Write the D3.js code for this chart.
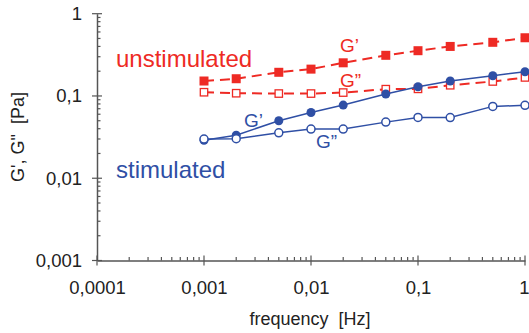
<!DOCTYPE html>
<html><head><meta charset="utf-8">
<script src="https://cdn.jsdelivr.net/npm/d3@7"></script>
<style>body{margin:0;background:#fff;}svg{display:block;font-family:"Liberation Sans",Arial,sans-serif;}text{white-space:pre;}</style>
</head><body><svg id="c" width="529" height="333"></svg>
<script>
const freq = [0.001,0.002,0.005,0.01,0.02,0.05,0.1,0.2,0.5,1];
const unstimG1 = [0.152,0.162,0.194,0.212,0.253,0.312,0.355,0.40,0.449,0.51];
const unstimG2 = [0.111,0.108,0.107,0.107,0.110,0.121,0.122,0.135,0.150,0.168];
const stimG1 = [0.029,0.0334,0.0499,0.063,0.0775,0.1055,0.1294,0.152,0.176,0.197];
const stimG2 = [0.0299,0.0302,0.0357,0.0396,0.0396,0.0481,0.0549,0.0546,0.0747,0.0769];
const xTicks = [0.0001,0.001,0.01,0.1,1];
const xTickLabels = ["0,0001","0,001","0,01","0,1","1"];
const yTicks = [0.001,0.01,0.1,1];
const yTickLabels = ["0,001","0,01","0,1","1"];

const RED="#ee2a24", BLUE="#2f4fa5", AX="#555";
const svg=d3.select("#c");
const x=d3.scaleLog().domain([0.0001,1]).range([97,525]);
const y=d3.scaleLog().domain([0.001,1]).range([260.5,13.7]);

const minors=[];
for(let e=-4;e<0;e++) for(let m=2;m<10;m++) minors.push(m*Math.pow(10,e));
const yMinors=[];
for(let e=-3;e<0;e++) for(let m=2;m<10;m++) yMinors.push(m*Math.pow(10,e));

const gx=svg.append("g").attr("transform",`translate(0,${y(0.001)})`);
gx.call(d3.axisBottom(x).tickValues(xTicks).tickFormat((d,i)=>xTickLabels[i]).tickSize(0).tickPadding(20));
gx.select(".domain").attr("stroke",AX).attr("stroke-width",1.5);
gx.selectAll("text").attr("font-size",18.5).attr("fill","#222").attr("font-family","Liberation Sans, Arial, sans-serif");
gx.selectAll(".tick").filter(d=>d===1).select("text").attr("text-anchor","end").attr("x",4);
gx.selectAll(".tk").data(xTicks).enter().append("line")
  .attr("x1",d=>x(d)).attr("x2",d=>x(d)).attr("y1",-5).attr("y2",5).attr("stroke",AX).attr("stroke-width",1.2);
gx.selectAll(".mn").data(minors).enter().append("line")
  .attr("x1",d=>x(d)).attr("x2",d=>x(d)).attr("y1",-3.5).attr("y2",0).attr("stroke",AX).attr("stroke-width",1.2);

const gy=svg.append("g").attr("transform",`translate(${x(0.0001)},0)`);
gy.call(d3.axisLeft(y).tickValues(yTicks).tickFormat((d,i)=>yTickLabels[i]).tickSize(0).tickPadding(15));
gy.select(".domain").attr("stroke",AX).attr("stroke-width",1.5);
gy.selectAll("text").attr("font-size",18.5).attr("fill","#222").attr("font-family","Liberation Sans, Arial, sans-serif");
gy.selectAll(".tk").data(yTicks).enter().append("line")
  .attr("y1",d=>y(d)).attr("y2",d=>y(d)).attr("x1",-5).attr("x2",5).attr("stroke",AX).attr("stroke-width",1.2);
gy.selectAll(".mn").data(yMinors).enter().append("line")
  .attr("y1",d=>y(d)).attr("y2",d=>y(d)).attr("x1",0).attr("x2",3.5).attr("stroke",AX).attr("stroke-width",1.2);

svg.append("text").attr("x",310).attr("y",325).attr("text-anchor","middle").attr("font-size",18).attr("fill","#222")
  .text("frequency  [Hz]");
svg.append("text").attr("transform","translate(24,137) rotate(-90)").attr("text-anchor","middle").attr("font-size",18).attr("fill","#222")
  .text("G', G\"  [Pa]");

const line=d3.line().x(d=>x(d[0])).y(d=>y(d[1]));
function pts(v){return freq.map((f,i)=>[f,v[i]]);}

svg.append("path").datum(pts(unstimG1)).attr("d",line).attr("fill","none").attr("stroke",RED).attr("stroke-width",2).attr("stroke-dasharray","10,6");
svg.append("path").datum(pts(unstimG2)).attr("d",line).attr("fill","none").attr("stroke",RED).attr("stroke-width",2).attr("stroke-dasharray","10,6");
svg.selectAll(".rs").data(pts(unstimG1)).enter().append("rect")
  .attr("x",d=>x(d[0])-4.5).attr("y",d=>y(d[1])-4.5).attr("width",9).attr("height",9).attr("fill",RED);
svg.selectAll(".ro").data(pts(unstimG2)).enter().append("rect")
  .attr("x",d=>x(d[0])-3.7).attr("y",d=>y(d[1])-3.7).attr("width",7.4).attr("height",7.4).attr("fill","#fff").attr("stroke",RED).attr("stroke-width",1.3);

svg.append("path").datum(pts(stimG1)).attr("d",line).attr("fill","none").attr("stroke",BLUE).attr("stroke-width",1.5);
svg.append("path").datum(pts(stimG2)).attr("d",line).attr("fill","none").attr("stroke",BLUE).attr("stroke-width",1.5);
svg.selectAll(".bs").data(pts(stimG1)).enter().append("circle")
  .attr("cx",d=>x(d[0])).attr("cy",d=>y(d[1])).attr("r",4.5).attr("fill",BLUE);
svg.selectAll(".bo").data(pts(stimG2)).enter().append("circle")
  .attr("cx",d=>x(d[0])).attr("cy",d=>y(d[1])).attr("r",4).attr("fill","#fff").attr("stroke",BLUE).attr("stroke-width",1.5);

svg.append("text").attr("x",116).attr("y",66.5).attr("font-size",24).attr("fill",RED).text("unstimulated");
svg.append("text").attr("x",116).attr("y",178).attr("font-size",24).attr("fill",BLUE).text("stimulated");
svg.append("text").attr("x",340).attr("y",52).attr("font-size",19).attr("fill",RED).text("G’");
svg.append("text").attr("x",340).attr("y",87).attr("font-size",19).attr("fill",RED).text("G”");
svg.append("text").attr("x",244).attr("y",127).attr("font-size",19).attr("fill",BLUE).text("G’");
svg.append("text").attr("x",316).attr("y",148).attr("font-size",19).attr("fill",BLUE).text("G”");
</script></body></html>
